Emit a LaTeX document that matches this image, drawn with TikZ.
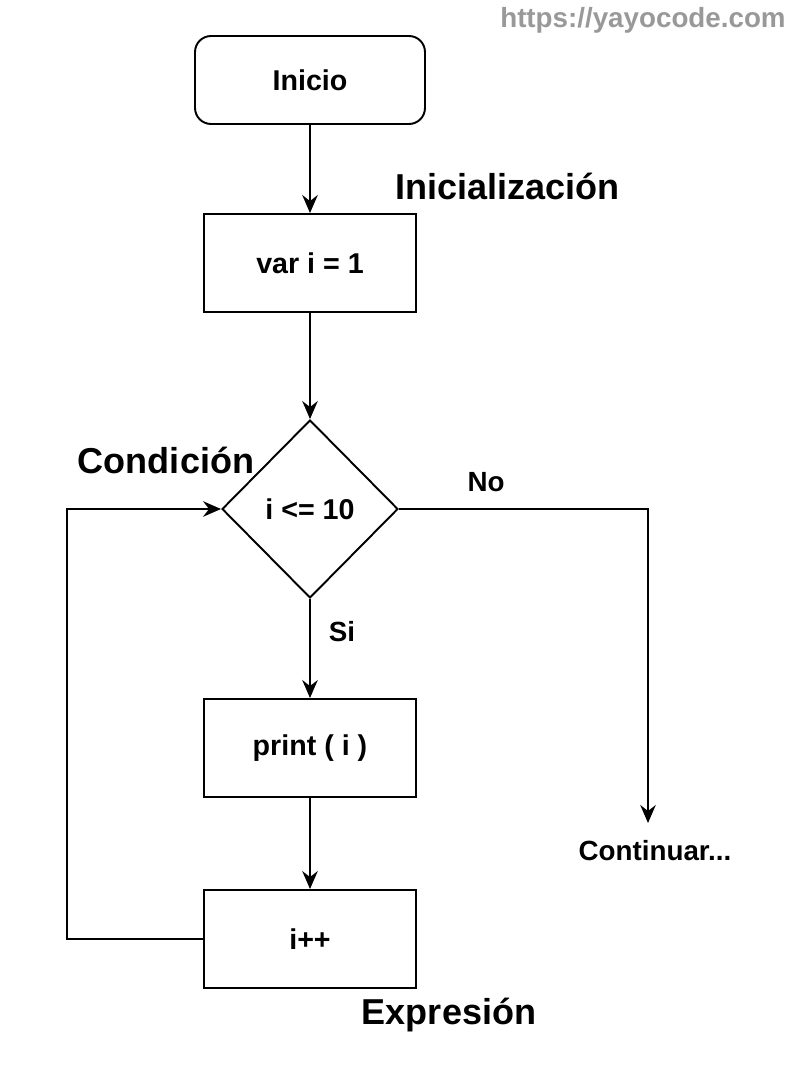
\documentclass[tikz,border=0pt]{standalone}
\usepackage{fontspec}
\setmainfont{Liberation Sans}
\usetikzlibrary{arrows.meta,shapes.geometric}

\tikzset{
	flecha/.style={line width=1.1pt, -{Stealth[length=3.6mm,width=3.1mm,inset=1.2mm]}},
	caja/.style={draw, line width=1.1pt, minimum width=4.24cm, minimum height=1.96cm, font=\bfseries\fontsize{16.3}{19}\selectfont},
	inicio/.style={caja, rounded corners=0.32cm, minimum width=4.6cm, minimum height=1.76cm},
	rombo/.style={draw, diamond, line width=1.1pt, inner sep=0pt, minimum width=3.52cm, minimum height=3.56cm, font=\bfseries\fontsize{16.3}{19}\selectfont},
	etiqueta/.style={font=\bfseries\fontsize{20.5}{24}\selectfont, inner sep=0pt},
	texto/.style={font=\bfseries\fontsize{15.8}{18}\selectfont, inner sep=0pt}
}

\begin{document}
\begin{tikzpicture}[x=0.02cm, y=-0.02cm]
		%%%%% START %%%%%
		\useasboundingbox (0, 0) rectangle (800, 1081);
		
		\node[texto, text=black!40, anchor=east] (web) at (786, 20) {https://yayocode.com};
		
		\node[inicio] (ini) at (310, 80) {Inicio};
		\node[caja] (var) at (310, 263) {var i = 1};
		\node[rombo] (cond) at (310, 509) {i <= 10};
		\node[caja] (print) at (310, 748) {print ( i )};
		\node[caja] (inc) at (310, 939) {i++};
		
		\node[etiqueta, anchor=west] (lini) at (395, 186) {Inicialización};
		\node[etiqueta] (lcond) at (166, 460) {Condición};
		\node[etiqueta] (lexp) at (449, 1015) {Expresión};
		
		\node[texto] (no) at (486, 482) {No};
		\node[texto] (si) at (342, 632) {Si};
		\node[texto] (cont) at (655, 851) {Continuar...};
		\coordinate (fin) at (648, 823);
		
		\draw[flecha] (ini) -- (var);
		\draw[flecha] (var) -- (cond);
		\draw[flecha] (cond) -- (print);
		\draw[flecha] (print) -- (inc);
		\draw[flecha] (cond.east) -| (fin);
		\draw[flecha] (inc.west) -- ++(-136, 0) |- (cond.west);
		
		%%%%% END %%%%%
\end{tikzpicture}
\end{document}
